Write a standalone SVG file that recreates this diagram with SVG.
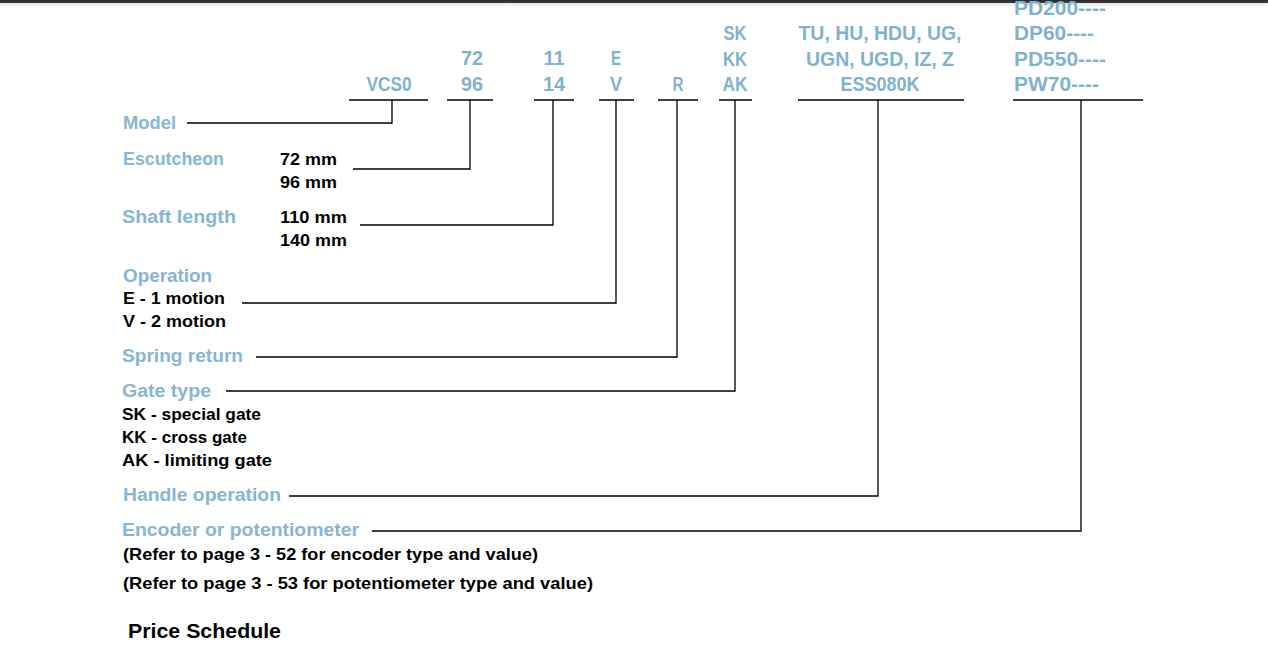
<svg xmlns="http://www.w3.org/2000/svg" width="1268" height="645" viewBox="0 0 1268 645">
<defs>
<linearGradient id="topbar" x1="0" y1="0" x2="0" y2="1">
<stop offset="0" stop-color="#2a2a2a"/>
<stop offset="0.45" stop-color="#3a3a3a"/>
<stop offset="0.55" stop-color="#e6e6e6"/>
<stop offset="1" stop-color="#f6f6f6"/>
</linearGradient>
</defs>
<style>
text{font-family:"Liberation Sans",Arial,sans-serif;font-weight:bold}
.code{fill:#7fb2cf;font-size:20px;text-anchor:middle}
.codel{fill:#7fb2cf;font-size:20px}
.lab{fill:#86b6d1;font-size:18px}
.val{fill:#000;font-size:16.5px}
.ttl{fill:#000;font-size:21px}
.ln{stroke:#000;stroke-width:1.3;fill:none}
</style>
<rect x="0" y="0" width="1268" height="645" fill="#fff"/>
<rect x="0" y="0" width="1268" height="6" fill="url(#topbar)"/>

<g id="code-model">
<text class="code" x="389" y="91" textLength="45" lengthAdjust="spacingAndGlyphs">VCS0</text>
<line class="ln" x1="349" y1="100" x2="428" y2="100"/>
</g>
<g id="code-escutcheon">
<text class="code" x="472" y="65" textLength="22" lengthAdjust="spacingAndGlyphs">72</text>
<text class="code" x="472" y="91" textLength="22" lengthAdjust="spacingAndGlyphs">96</text>
<line class="ln" x1="447" y1="100" x2="493" y2="100"/>
</g>
<g id="code-shaft">
<text class="code" x="554" y="65" textLength="21" lengthAdjust="spacingAndGlyphs">11</text>
<text class="code" x="554" y="91" textLength="22" lengthAdjust="spacingAndGlyphs">14</text>
<line class="ln" x1="534" y1="100" x2="574" y2="100"/>
</g>
<g id="code-operation">
<text class="code" x="616" y="65" textLength="10" lengthAdjust="spacingAndGlyphs">E</text>
<text class="code" x="616" y="91" textLength="12" lengthAdjust="spacingAndGlyphs">V</text>
<line class="ln" x1="599" y1="100" x2="634" y2="100"/>
</g>
<g id="code-spring">
<text class="code" x="678" y="91" textLength="11" lengthAdjust="spacingAndGlyphs">R</text>
<line class="ln" x1="658" y1="100" x2="698" y2="100"/>
</g>
<g id="code-gate">
<text class="code" x="735" y="40" textLength="23" lengthAdjust="spacingAndGlyphs">SK</text>
<text class="code" x="735" y="66" textLength="24" lengthAdjust="spacingAndGlyphs">KK</text>
<text class="code" x="735" y="91" textLength="25" lengthAdjust="spacingAndGlyphs">AK</text>
<line class="ln" x1="719" y1="100" x2="752" y2="100"/>
</g>
<g id="code-handle">
<text class="code" x="880" y="40" textLength="163" lengthAdjust="spacingAndGlyphs">TU, HU, HDU, UG,</text>
<text class="code" x="880" y="66" textLength="148" lengthAdjust="spacingAndGlyphs">UGN, UGD, IZ, Z</text>
<text class="code" x="880" y="91" textLength="79" lengthAdjust="spacingAndGlyphs">ESS080K</text>
<line class="ln" x1="798" y1="100" x2="964" y2="100"/>
</g>
<g id="code-encoder">
<text class="codel" x="1014" y="15" textLength="92" lengthAdjust="spacingAndGlyphs">PD200----</text>
<text class="codel" x="1014" y="40" textLength="80" lengthAdjust="spacingAndGlyphs">DP60----</text>
<text class="codel" x="1014" y="66" textLength="92" lengthAdjust="spacingAndGlyphs">PD550----</text>
<text class="codel" x="1014" y="91" textLength="85" lengthAdjust="spacingAndGlyphs">PW70----</text>
<line class="ln" x1="1013" y1="100" x2="1143" y2="100"/>
</g>

<g id="label-model">
<text class="lab" x="123" y="129" textLength="53" lengthAdjust="spacingAndGlyphs">Model</text>
</g>
<g id="label-escutcheon">
<text class="lab" x="123" y="165" textLength="101" lengthAdjust="spacingAndGlyphs">Escutcheon</text>
<text class="val" x="280" y="165" textLength="57" lengthAdjust="spacingAndGlyphs">72 mm</text>
<text class="val" x="280" y="188" textLength="57" lengthAdjust="spacingAndGlyphs">96 mm</text>
</g>
<g id="label-shaft">
<text class="lab" x="122" y="223" textLength="114" lengthAdjust="spacingAndGlyphs">Shaft length</text>
<text class="val" x="280" y="223" textLength="67" lengthAdjust="spacingAndGlyphs">110 mm</text>
<text class="val" x="280" y="246" textLength="67" lengthAdjust="spacingAndGlyphs">140 mm</text>
</g>
<g id="label-operation">
<text class="lab" x="123" y="282" textLength="89" lengthAdjust="spacingAndGlyphs">Operation</text>
<text class="val" x="123" y="304" textLength="102" lengthAdjust="spacingAndGlyphs">E - 1 motion</text>
<text class="val" x="123" y="327" textLength="103" lengthAdjust="spacingAndGlyphs">V - 2 motion</text>
</g>
<g id="label-spring">
<text class="lab" x="122" y="362" textLength="121" lengthAdjust="spacingAndGlyphs">Spring return</text>
</g>
<g id="label-gate">
<text class="lab" x="122" y="397" textLength="89" lengthAdjust="spacingAndGlyphs">Gate type</text>
<text class="val" x="122" y="420" textLength="139" lengthAdjust="spacingAndGlyphs">SK - special gate</text>
<text class="val" x="122" y="443" textLength="125" lengthAdjust="spacingAndGlyphs">KK - cross gate</text>
<text class="val" x="122" y="466" textLength="150" lengthAdjust="spacingAndGlyphs">AK - limiting gate</text>
</g>
<g id="label-handle">
<text class="lab" x="123" y="501" textLength="158" lengthAdjust="spacingAndGlyphs">Handle operation</text>
</g>
<g id="label-encoder">
<text class="lab" x="122" y="536" textLength="237" lengthAdjust="spacingAndGlyphs">Encoder or potentiometer</text>
<text class="val" x="123" y="560" textLength="415" lengthAdjust="spacingAndGlyphs">(Refer to page 3 - 52 for encoder type and value)</text>
<text class="val" x="123" y="589" textLength="470" lengthAdjust="spacingAndGlyphs">(Refer to page 3 - 53 for potentiometer type and value)</text>
</g>
<g id="title">
<text class="ttl" x="128" y="638" textLength="153" lengthAdjust="spacingAndGlyphs">Price Schedule</text>
</g>

<g id="connectors">
<polyline class="ln" points="187,123 392,123 392,100"/>
<polyline class="ln" points="353,169 470,169 470,100"/>
<polyline class="ln" points="360,225 553,225 553,100"/>
<polyline class="ln" points="242,303 616,303 616,100"/>
<polyline class="ln" points="256,357 677,357 677,100"/>
<polyline class="ln" points="226,391 735,391 735,100"/>
<polyline class="ln" points="289,496 878,496 878,100"/>
<polyline class="ln" points="372,531 1081,531 1081,100"/>
</g>
</svg>
